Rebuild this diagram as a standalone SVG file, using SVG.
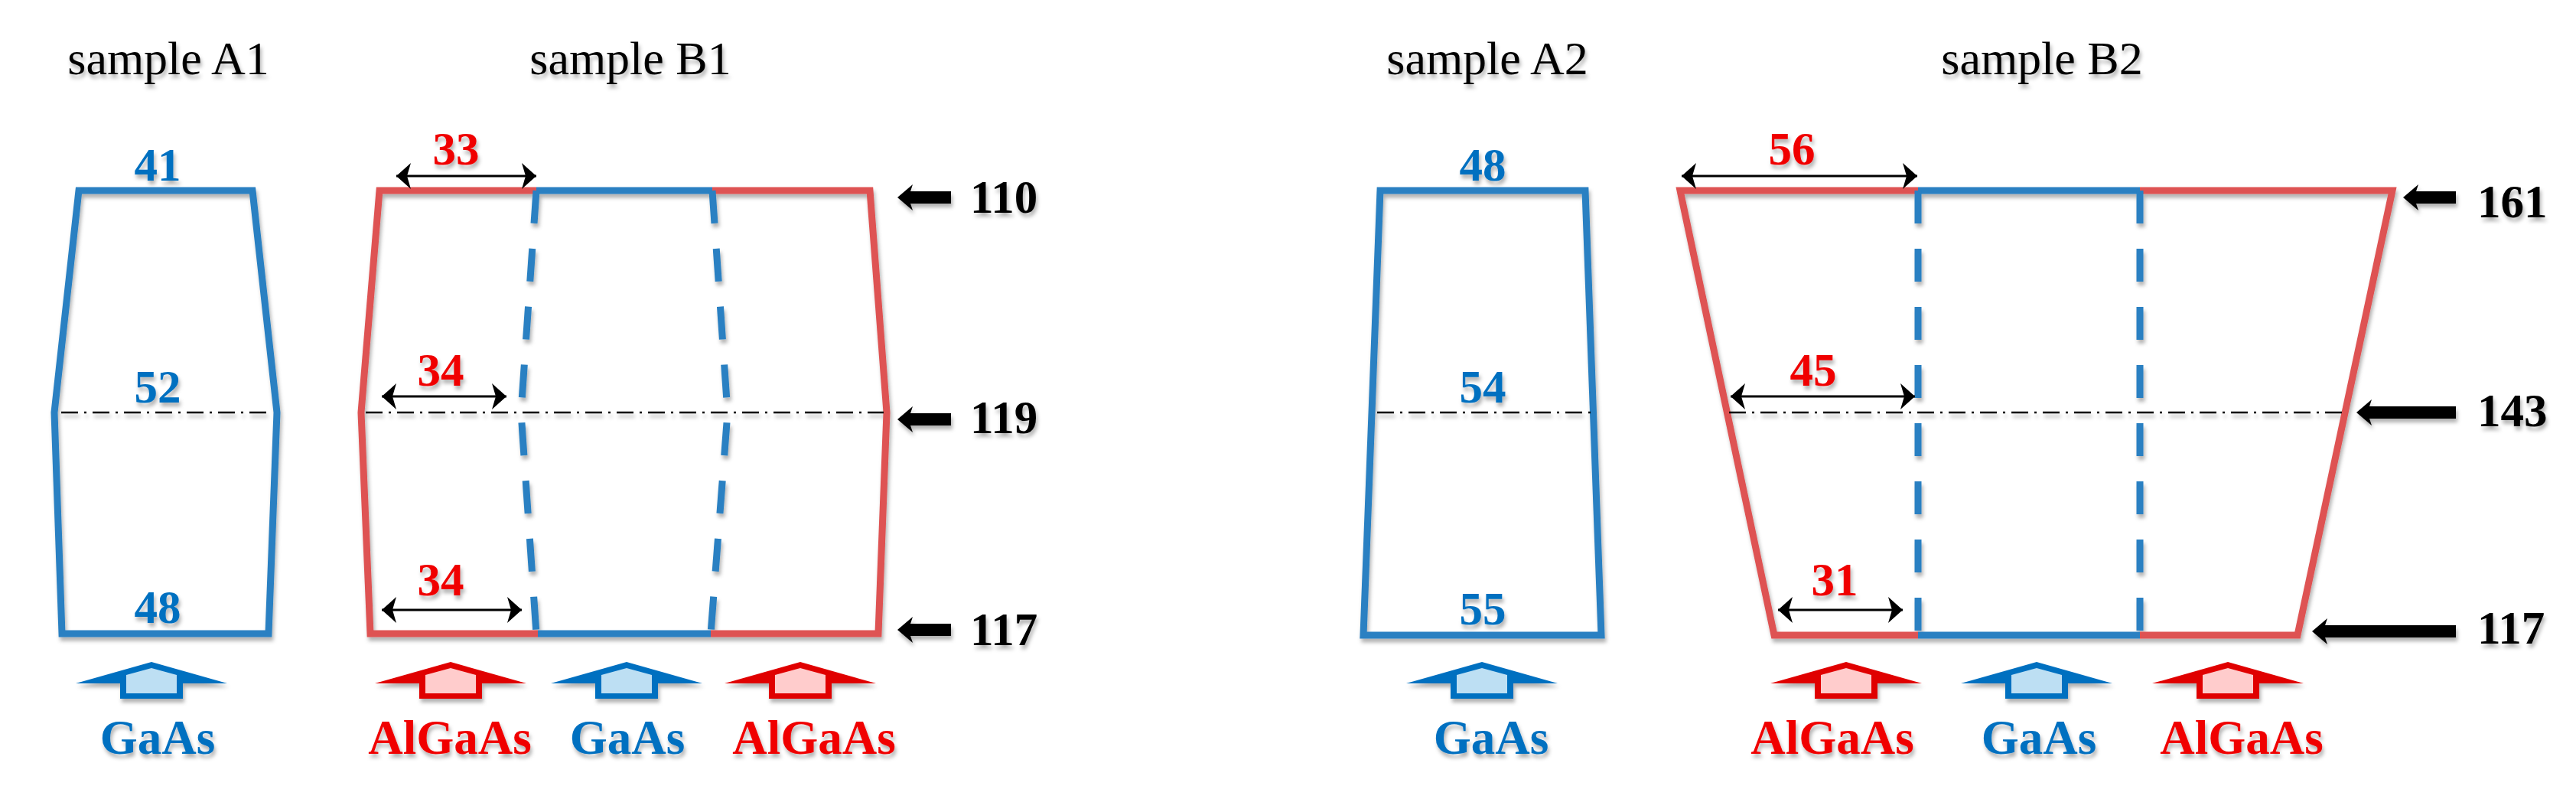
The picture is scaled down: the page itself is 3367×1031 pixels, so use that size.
<svg xmlns="http://www.w3.org/2000/svg" xmlns:xlink="http://www.w3.org/1999/xlink" width="3367" height="1031" viewBox="0 0 3367 1031">
<style>
.t{font-family:"Liberation Serif","Times New Roman",serif;}
.title{font-size:62px;fill:#000;text-anchor:middle;}
.num{font-size:61px;font-weight:bold;text-anchor:middle;}
.nb{fill:#0070C0;}
.nr{fill:#F00000;}
.val{font-size:61px;font-weight:bold;fill:#000;}
.mat{font-size:63px;font-weight:bold;text-anchor:middle;}
.bl{fill:none;stroke:#2980C2;stroke-width:9;stroke-linejoin:miter;stroke-linecap:butt;}
.rd{fill:none;stroke:#DE5252;stroke-width:9;stroke-linejoin:miter;stroke-linecap:butt;}
.dsh{stroke-dasharray:43 33;}
.cl{fill:none;stroke:#000;stroke-width:2.5;stroke-dasharray:22 8 3 8;}
.dim{fill:none;stroke:#000;stroke-width:3;marker-start:url(#dh);marker-end:url(#dh);}
.ptr{fill:#000;}
</style>
<defs>
<filter id="sh" filterUnits="userSpaceOnUse" x="0" y="0" width="3367" height="1031">
<feDropShadow dx="2" dy="5" stdDeviation="2.5" flood-color="#000" flood-opacity="0.3"/>
</filter>
<marker id="dh" viewBox="0 -18 22 36" refX="20" refY="0" markerWidth="22" markerHeight="36" markerUnits="userSpaceOnUse" orient="auto-start-reverse">
<path d="M20,0 L1,-17 L6,0 L1,17 Z" fill="#000"/>
</marker>
<g id="upBlue">
<polygon points="0,865 99,893 41,893 41,913 -41,913 -41,893 -99,893" fill="#0070C0"/>
<polygon points="0,873 33,882 33,906 -33,906 -33,882" fill="#BDDFF3"/>
</g>
<g id="upRed">
<polygon points="0,865 99,893 41,893 41,913 -41,913 -41,893 -99,893" fill="#E00000"/>
<polygon points="0,873 33,882 33,906 -33,906 -33,882" fill="#FFCCCC"/>
</g>
</defs>
<rect x="0" y="0" width="3367" height="1031" fill="#fff"/>

<g id="titles" class="t title" filter="url(#sh)">
<text x="220" y="97">sample A1</text>
<text x="824" y="97">sample B1</text>
<text x="1944" y="97">sample A2</text>
<text x="2669" y="97">sample B2</text>
</g>

<g id="sample-A1" filter="url(#sh)">
<polygon class="bl" points="103,249 330,249 362,539 351,828 81,828 71,539"/>
<line class="cl" x1="80" y1="539" x2="354" y2="539"/>
<g class="t num nb">
<text x="206" y="236">41</text>
<text x="206" y="526">52</text>
<text x="206" y="814">48</text>
</g>
</g>

<g id="sample-B1" filter="url(#sh)">
<polyline class="rd" points="701,249 496,249 472,539 484,828 703,828"/>
<polyline class="rd" points="931,249 1137,249 1159,539 1148,828 929,828"/>
<line class="bl" x1="701" y1="249" x2="931" y2="249"/>
<line class="bl" x1="703" y1="828" x2="929" y2="828"/>
<polyline class="bl dsh" points="701,249 681,539 701,828"/>
<polyline class="bl dsh" points="931,249 951,539 929,828"/>
<line class="cl" x1="478" y1="539" x2="1155" y2="539"/>
<g class="t num nr">
<text x="596" y="215">33</text>
<text x="576" y="504">34</text>
<text x="576" y="778">34</text>
</g>
</g>

<g id="sample-A2" filter="url(#sh)">
<polygon class="bl" points="1804,249 2072,249 2093,830 1782,830"/>
<line class="cl" x1="1800" y1="539" x2="2080" y2="539"/>
<g class="t num nb">
<text x="1938" y="236">48</text>
<text x="1938" y="526">54</text>
<text x="1938" y="816">55</text>
</g>
</g>

<g id="sample-B2" filter="url(#sh)">
<polyline class="rd" points="2507,249 2196,249 2319,830 2507,830"/>
<polyline class="rd" points="2797,249 3127,249 3003,830 2797,830"/>
<line class="bl" x1="2507" y1="249" x2="2797" y2="249"/>
<line class="bl" x1="2507" y1="830" x2="2797" y2="830"/>
<line class="bl dsh" x1="2507" y1="249" x2="2507" y2="830"/>
<line class="bl dsh" x1="2797" y1="249" x2="2797" y2="830"/>
<line class="cl" x1="2260" y1="539" x2="3062" y2="539"/>
<g class="t num nr">
<text x="2342" y="215">56</text>
<text x="2370" y="504">45</text>
<text x="2398" y="778">31</text>
</g>
</g>

<g id="connectors">
<line class="dim" x1="518" y1="230" x2="701" y2="230"/>
<line class="dim" x1="499" y1="518" x2="662" y2="518"/>
<line class="dim" x1="499" y1="797" x2="682" y2="797"/>
<line class="dim" x1="2198" y1="230" x2="2506" y2="230"/>
<line class="dim" x1="2262" y1="518" x2="2503" y2="518"/>
<line class="dim" x1="2324" y1="797" x2="2487" y2="797"/>
<g filter="url(#sh)">
<polygon class="ptr" points="1173,258 1193,241 1190,250 1243,250 1243,266 1190,266 1193,275"/>
<polygon class="ptr" points="1173,548 1193,531 1190,540 1243,540 1243,556 1190,556 1193,565"/>
<polygon class="ptr" points="1173,823 1193,806 1190,815 1243,815 1243,831 1190,831 1193,840"/>
<polygon class="ptr" points="3141,258 3161,241 3158,250 3210,250 3210,266 3158,266 3161,275"/>
<polygon class="ptr" points="3080,539 3100,522 3097,531 3210,531 3210,547 3097,547 3100,556"/>
<polygon class="ptr" points="3022,825 3042,808 3039,817 3210,817 3210,833 3039,833 3042,842"/>
</g>
</g>

<g id="thickness-values" class="t val" filter="url(#sh)">
<text x="1268" y="278">110</text>
<text x="1268" y="566">119</text>
<text x="1268" y="843">117</text>
<text x="3238" y="284">161</text>
<text x="3238" y="557">143</text>
<text x="3238" y="841">117</text>
</g>

<g id="materials" filter="url(#sh)">
<use xlink:href="#upBlue" transform="translate(198,0)"/>
<use xlink:href="#upRed" transform="translate(589,0)"/>
<use xlink:href="#upBlue" transform="translate(819,0)"/>
<use xlink:href="#upRed" transform="translate(1046,0)"/>
<use xlink:href="#upBlue" transform="translate(1937,0)"/>
<use xlink:href="#upRed" transform="translate(2413,0)"/>
<use xlink:href="#upBlue" transform="translate(2662,0)"/>
<use xlink:href="#upRed" transform="translate(2912,0)"/>
<g class="t mat">
<text x="206" y="985" fill="#0070C0">GaAs</text>
<text x="588" y="985" fill="#F00000">AlGaAs</text>
<text x="820" y="985" fill="#0070C0">GaAs</text>
<text x="1064" y="985" fill="#F00000">AlGaAs</text>
<text x="1949" y="985" fill="#0070C0">GaAs</text>
<text x="2395" y="985" fill="#F00000">AlGaAs</text>
<text x="2665" y="985" fill="#0070C0">GaAs</text>
<text x="2930" y="985" fill="#F00000">AlGaAs</text>
</g>
</g>
</svg>
